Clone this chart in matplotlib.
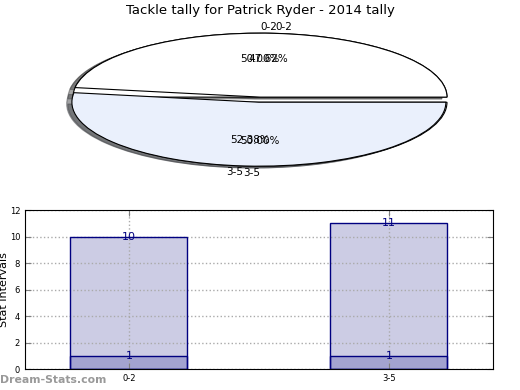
import numpy as np
import matplotlib
matplotlib.use('Agg')
import matplotlib.pyplot as plt

# data
categories = ['0-2', '3-5']
tally = [10, 11]
minimum = [1, 1]
title = 'Tackle tally for Patrick Ryder - 2014 tally'

fig = plt.figure(figsize=(5.2, 3.9), dpi=100)

# pie (drawn twice, as in the source image: once for the minimums, once for tallies)
ax1 = fig.add_axes([0.0505, 0.546, 0.899, 0.41])
pie_colors = ['white', '#EAF0FC']
for i, vals in enumerate((minimum, tally)):
    wedges, texts, autos = ax1.pie(vals, labels=categories, colors=pie_colors,
                                   explode=(0, 0.08), shadow=True, autopct='%.2f%%',
                                   wedgeprops={'edgecolor': 'black', 'linewidth': 0.8},
                                   textprops={'fontsize': 7.5})
    if i == 0:
        # old matplotlib aligned the 50/50 labels this way
        texts[0].set_ha('left')
        texts[1].set_ha('right')
ax1.set_aspect('auto')
ax1.set_xlim(-1.25, 1.25)
ax1.set_ylim(-1.25, 1.25)
fig.text(0.5, 0.974, title, ha='center', va='center', fontsize=9.5)

# bars
ax2 = fig.add_axes([0.048, 0.0538, 0.9, 0.4077])
x = np.arange(len(categories))
ax2.bar(x, tally, width=0.45, color='#CCCCE4', linewidth=0, zorder=1)
ax2.bar(x, minimum, width=0.45, color='#A3A3D0', linewidth=0, zorder=1.5)
# outlines on top of the grid
ax2.bar(x, tally, width=0.45, fill=False, edgecolor='#000080', linewidth=1, zorder=4)
ax2.bar(x, minimum, width=0.45, fill=False, edgecolor='#000080', linewidth=1, zorder=4)
for xi, v in zip(x, tally):
    ax2.text(xi, v, str(v), ha='center', va='center', color='#000080', fontsize=8, zorder=6)
for xi, v in zip(x, minimum):
    ax2.text(xi, v, str(v), ha='center', va='center', color='#000080', fontsize=8, zorder=6)
ax2.set_xlim(-0.4, 1.4)
ax2.set_ylim(0, 12)
ax2.set_yticks(range(0, 13, 2))
ax2.set_xticks(x)
ax2.set_xticklabels(categories)
ax2.tick_params(labelsize=6, direction='in', color='grey', right=True, top=True, length=4)
ax2.grid(color='#AAAAAA', linestyle=':', linewidth=1, zorder=3)
ax2.set_axisbelow(False)
for sp in ax2.spines.values():
    sp.set_zorder(5)
ax2.set_ylabel('Stat Intervals', fontsize=8)
ax2.yaxis.set_label_coords(-0.035, 0.5)
ax2.set_xlabel('Frequency', fontsize=8, labelpad=6)

fig.text(0.0, 0.012, 'Dream-Stats.com', fontsize=7.8, color='#999999', fontweight='bold', ha='left', va='bottom')

fig.savefig('out.png', dpi=100)
